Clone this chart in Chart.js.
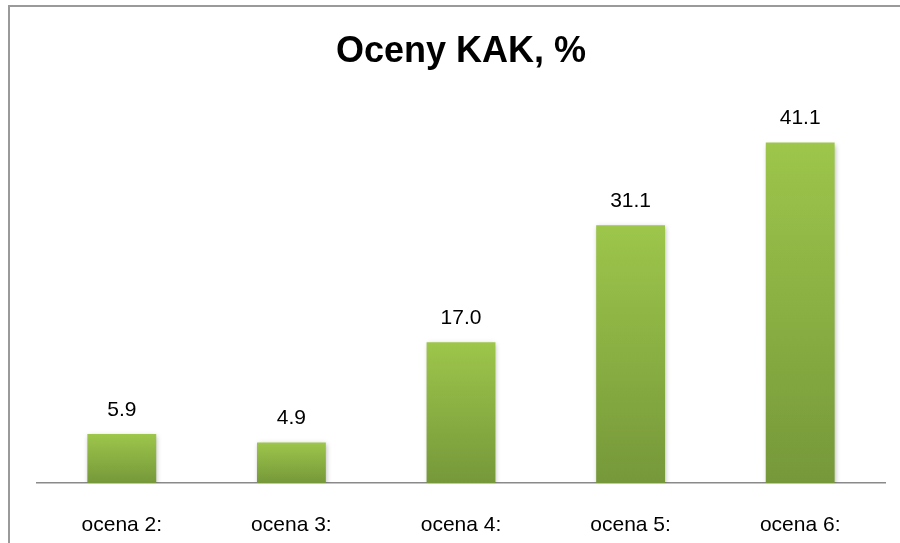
<!DOCTYPE html>
<html lang="pl">
<head>
    <meta charset="UTF-8">
    <title>Oceny KAK, %</title>
    <style>
        html, body { margin: 0; padding: 0; background: #fff; overflow: hidden; }
        #frame {
            position: absolute; left: 8px; top: 5px; width: 900px; height: 560px;
            border-left: 2px solid #9a9a9a; border-top: 2px solid #9a9a9a;
        }
        #wrap { position: absolute; left: 0; top: 0; width: 900px; height: 543px; }
    </style>
</head>
<body>
    <div id="frame"></div>
    <div id="wrap"><canvas id="chart" width="900" height="543"></canvas></div>
    <script src="https://cdn.jsdelivr.net/npm/chart.js"></script>
    <script>
        const categories = ['ocena 2:', 'ocena 3:', 'ocena 4:', 'ocena 5:', 'ocena 6:'];
        const values = [5.9, 4.9, 17.0, 31.1, 41.1];

        const FONT = "'Liberation Sans', Arial, sans-serif";

        // gradient from bar top (light) to base (dark), one per bar
        function barFill(ctx) {
            const chart = ctx.chart;
            const area = chart.chartArea;
            if (!area || ctx.parsed == null) return '#8db443';
            const y = chart.scales.y;
            const top = y.getPixelForValue(ctx.parsed.y);
            const base = y.getPixelForValue(0);
            const g = chart.ctx.createLinearGradient(0, top, 0, base);
            g.addColorStop(0, '#9dc64b');
            g.addColorStop(1, '#76983a');
            return g;
        }

        const shadowPlugin = {
            id: 'barShadow',
            beforeDatasetsDraw(chart) {
                const c = chart.ctx;
                c.save();
                c.shadowColor = 'rgba(0,0,0,0.28)';
                c.shadowBlur = 5;
                c.shadowOffsetX = 1;
                c.shadowOffsetY = 2;
            },
            afterDatasetsDraw(chart) {
                chart.ctx.restore();
            }
        };

        const valueLabels = {
            id: 'valueLabels',
            afterDatasetsDraw(chart) {
                const c = chart.ctx;
                const meta = chart.getDatasetMeta(0);
                c.save();
                c.font = '21px ' + FONT;
                c.fillStyle = '#000';
                c.textAlign = 'center';
                c.textBaseline = 'middle';
                meta.data.forEach((bar, i) => {
                    c.fillText(values[i].toFixed(1), bar.x, bar.y - 24);
                });
                c.restore();
            }
        };

        new Chart(document.getElementById('chart'), {
            type: 'bar',
            data: {
                labels: categories,
                datasets: [{
                    data: values,
                    backgroundColor: barFill,
                    borderWidth: 0,
                    categoryPercentage: 1.0,
                    barPercentage: 0.406
                }]
            },
            options: {
                responsive: false,
                animation: false,
                layout: { padding: { left: 37, right: 15, top: 0, bottom: 0 } },
                plugins: {
                    legend: { display: false },
                    tooltip: { enabled: false },
                    title: {
                        display: true,
                        text: 'Oceny KAK, %',
                        color: '#000',
                        font: { family: FONT, size: 36, weight: 'bold' },
                        padding: { top: 30, bottom: 37 }
                    }
                },
                scales: {
                    x: {
                        grid: { display: false },
                        border: { display: true, color: '#8a8a8a', width: 1.5 },
                        ticks: { color: '#000', font: { family: FONT, size: 21 }, padding: 22 },
                        afterFit(scale) { scale.height = 60; }
                    },
                    y: {
                        display: false,
                        min: 0,
                        max: 45
                    }
                }
            },
            plugins: [shadowPlugin, valueLabels]
        });
    </script>
</body>
</html>
